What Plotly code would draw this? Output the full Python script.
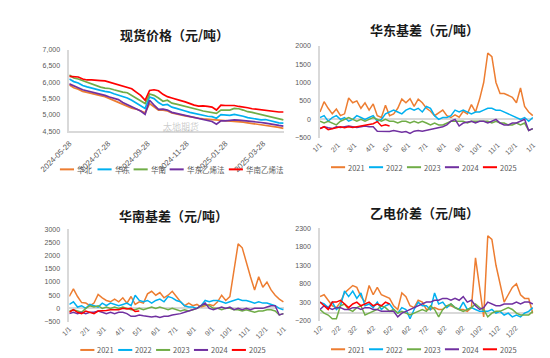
import pandas as pd
import plotly.graph_objects as go

W, H = 550, 358

# ---------------- data: 现货价格 (weekly) ----------------
spot_dates = pd.date_range("2024-05-28", periods=49, freq="7D").strftime("%Y-%m-%d").tolist()
spot_huabei = [5920,5830,5790,5720,5690,5650,5610,5590,5560,5500,
               5450,5400,5330,5260,5210,5180,5130,5070,5350,5250,
               5150,5150,5120,5060,5040,5000,4970,4940,4920,4900,
               4880,4870,4860,4840,4850,4830,4820,4800,4800,4780,
               4760,4740,4720,4720,4700,4680,4660,4620,4590]
spot_huadong = [6100,6020,5980,5900,5860,5820,5770,5750,5720,5700,
                5650,5610,5570,5520,5450,5360,5280,5200,5550,5500,
                5380,5300,5320,5240,5200,5150,5120,5080,5050,5000,
                4980,4960,4950,4900,5010,5000,4990,5020,5000,4960,
                4920,4900,4880,4850,4860,4820,4790,4760,4750]
spot_huanan = [6220,6130,6100,6050,6000,5950,5880,5850,5820,5810,
               5770,5730,5700,5680,5600,5520,5450,5350,5640,5600,
               5520,5420,5450,5360,5330,5300,5260,5230,5200,5160,
               5120,5100,5080,5050,5150,5140,5150,5200,5190,5150,
               5100,5080,5050,5000,4980,4950,4930,4880,4850]
spot_hd_ethylene = [5950,5880,5830,5770,5740,5700,5660,5640,5600,5550,
                    5510,5470,5380,5310,5240,5170,5120,5020,5450,5300,
                    5170,5180,5150,5080,5050,5020,4990,4950,4920,4880,
                    4850,4820,4800,4720,4820,4820,4840,4850,4840,4830,
                    4820,4800,4780,4770,4750,4720,4700,4680,4660]
spot_hn_ethylene = [6180,6170,6160,6100,6070,6070,6050,6050,6040,6000,
                    5970,5920,5880,5860,5800,5700,5600,5450,5750,5770,
                    5740,5630,5560,5520,5470,5440,5400,5340,5300,5270,
                    5280,5260,5240,5150,5300,5290,5300,5290,5260,5250,
                    5220,5190,5170,5150,5130,5110,5100,5090,5090]
spot_names = ["华北", "华东", "华南", "华东乙烯法", "华南乙烯法"]
spot_ticks = ["2024-05-28", "2024-07-28", "2024-09-28", "2024-11-28", "2025-01-28", "2025-03-28"]

# ---------------- data: seasonal (day of year, weekly) ----------------
week_days = list(range(0, 365, 7))
years = ["2021", "2022", "2023", "2024", "2025"]

hd_2021 = [200,480,300,150,280,100,150,580,450,500,300,450,250,420,100,50,380,100,150,300,
           550,450,560,350,550,450,300,220,100,180,250,100,50,120,60,220,150,400,200,550,
           1000,1800,1700,1000,700,700,650,600,450,850,350,200,100]
hd_2022 = [50,100,-50,50,100,0,50,-50,0,100,50,0,50,100,-50,0,
           150,200,250,200,150,250,300,250,300,200,350,300,100,0,50,
           50,100,250,200,250,200,150,200,200,250,300,300,250,250,200,150,100,50,0,50,-50,50]
hd_2023 = [-50,-100,-50,-100,-150,-50,0,50,0,-50,0,-50,0,
           50,0,-50,0,-50,-50,-100,-50,-50,-100,-50,-100,-50,
           -100,-150,-100,-150,-150,-100,-50,-50,-50,-50,-100,-50,-50,
           -50,-50,-50,-100,-50,-100,-100,-150,-150,-100,-150,-100,-300,-250]
hd_2024 = [-250,-200,-230,-250,-200,-220,-200,-180,-200,-220,
           -200,-180,-200,-200,-320,-320,-340,-330,-300,-320,
           -350,-330,-380,-320,-300,-320,-300,-280,-250,-220,
           -200,-150,-50,0,-180,-100,-80,-50,-100,-50,
           -50,-100,-50,0,-100,-150,-150,-100,-100,-50,
           0,-300,-250]
hd_2025 = [-250,-200,-280,-250,-220,-200,-230,-200,-220,-200,-200,-180,-150,-120,-60,-180,-150,-180]

hn_2021 = [450,740,450,220,200,100,200,530,400,300,250,350,250,400,200,450,150,250,200,550,
           650,500,600,400,500,650,450,250,100,200,100,150,50,100,150,100,250,500,300,450,
           1500,2450,2300,1700,1200,700,1200,800,1000,700,500,350,250]
hn_2022 = [150,250,50,100,0,150,100,50,200,100,200,150,100,150,200,100,
           500,300,250,300,200,300,350,250,450,400,300,250,100,50,50,
           0,100,300,250,300,300,250,200,250,300,350,300,300,250,200,250,200,200,150,100,0,-50]
hn_2023 = [-100,-50,-100,-150,0,100,50,100,0,50,0,50,0,50,0,-50,-50,0,-50,0,
           50,0,50,0,-50,0,-50,-100,-50,-100,-50,0,100,150,100,0,0,-50,0,0,
           -50,-50,-100,-50,-100,-150,-100,-100,-50,-50,-100,-250,-200]
hn_2024 = [-200,-150,-200,-150,-200,-150,-150,-100,-150,-200,-150,-200,-150,-150,-200,-300,-300,-250,-280,-300,
           -330,-300,-350,-300,-300,-250,-230,-200,-150,-100,-50,0,100,200,0,-50,0,50,0,50,
           -50,0,-50,0,-50,0,0,0,50,100,100,-250,-200]
hn_2025 = [-150,-50,-150,-200,-100,-150,-200,-100,-100,-80,-50,-50,-50,0,-20,0,-120,-100]

yd_2021 = [450,500,350,200,150,300,550,650,750,700,450,300,750,500,700,500,450,400,200,100,
           550,450,200,150,350,300,100,100,150,100,100,200,200,150,100,100,50,150,1500,700,
           -100,2100,2000,1300,800,300,500,700,800,500,400,400,0]
yd_2022 = [300,250,150,300,100,200,600,450,600,400,550,200,250,150,300,100,200,250,100,0,
           150,100,-150,100,300,200,200,100,550,250,300,150,250,150,100,300,100,150,100,50,
           50,50,100,0,50,-50,0,-100,-50,-100,0,50,150]
yd_2023 = [100,0,-50,-150,-150,200,250,100,50,150,200,-50,0,50,100,200,150,50,100,0,
           50,0,-50,0,50,100,50,200,100,-100,100,200,250,150,100,50,100,150,250,150,
           100,-100,0,50,50,100,150,100,0,-50,-50,-50,50]
yd_2024 = [100,200,150,100,150,150,100,100,150,150,100,150,150,100,100,50,50,50,50,-100,
           0,50,100,150,200,250,300,300,350,350,400,400,350,400,350,450,300,350,200,100,
           150,300,250,200,200,250,250,250,300,250,300,300,250]
yd_2025 = [300,200,100,300,300,350,250,150,250,300,200,250,300,200,250,200,300,250]

month1_days = [0, 31, 59, 90, 120, 151, 181, 212, 243, 273, 304, 334, 365]
month1_text = ["1/1", "2/1", "3/1", "4/1", "5/1", "6/1", "7/1", "8/1", "9/1", "10/1", "11/1", "12/1", "1/1"]
month2_days = [1, 32, 60, 91, 121, 152, 182, 213, 244, 274, 305, 335]
month2_text = ["1/2", "2/2", "3/2", "4/2", "5/2", "6/2", "7/2", "8/2", "9/2", "10/2", "11/2", "12/2"]

# ---------------- style ----------------
spot_colors = ["#ED7D31", "#00B0F0", "#70AD47", "#7030A0", "#FF0000"]
year_colors = ["#ED7D31", "#00B0F0", "#70AD47", "#7030A0", "#FF0000"]
GRAY = "#D9D9D9"
TICK_FONT = dict(family="Liberation Sans, Arial, sans-serif", size=7, color="#595959")
DATE_FONT = dict(family="Liberation Sans, Arial, sans-serif", size=7.8, color="#595959")
LEG_FONT = dict(family="Noto Sans CJK SC, Liberation Sans, sans-serif", size=7.5, color="#595959")
TITLE_FONT = dict(family="Noto Sans CJK SC", size=13, color="#1a1a1a", weight="bold")


def dx(a, b):
    return [a / W, b / W]


def dy(top, bottom):
    return [1 - bottom / H, 1 - top / H]


fig = go.Figure()

for name, vals, col in zip(spot_names,
                           [spot_huabei, spot_huadong, spot_huanan, spot_hd_ethylene, spot_hn_ethylene],
                           spot_colors):
    fig.add_trace(go.Scatter(x=spot_dates, y=vals, mode="lines", name=name,
                             line=dict(color=col, width=1.7), xaxis="x", yaxis="y", showlegend=False))

panels = [
    ("x2", "y2", [hd_2021, hd_2022, hd_2023, hd_2024, hd_2025]),
    ("x3", "y3", [hn_2021, hn_2022, hn_2023, hn_2024, hn_2025]),
    ("x4", "y4", [yd_2021, yd_2022, yd_2023, yd_2024, yd_2025]),
]
for xa, ya, series in panels:
    for yr, vals, col in zip(years, series, year_colors):
        fig.add_trace(go.Scatter(x=week_days[:len(vals)], y=vals, mode="lines", name=yr,
                                 line=dict(color=col, width=1.5), xaxis=xa, yaxis=ya, showlegend=False))

common_x = dict(showgrid=False, zeroline=False, tickangle=-45, ticks="")
common_y = dict(showgrid=False, showline=True, linecolor=GRAY, linewidth=1.5, tickfont=TICK_FONT,
                ticks="", ticklabelstandoff=6)

fig.update_layout(
    width=W, height=H, margin=dict(l=0, r=0, t=0, b=0),
    paper_bgcolor="white", plot_bgcolor="white", showlegend=False,
    xaxis=dict(domain=dx(33.3, 261.7), anchor="y", type="date",
               range=["2024-05-28", "2025-04-30"], tickvals=spot_ticks, ticktext=spot_ticks,
               showline=True, linecolor=GRAY, linewidth=1.5, ticklabelstandoff=3,
               tickfont=DATE_FONT, **common_x),
    yaxis=dict(domain=dy(38.3, 121.7), anchor="x", range=[4500, 7000], dtick=500,
               tickformat=",", zeroline=False, **common_y),
    xaxis2=dict(domain=dx(300, 527), anchor="y2", range=[0, 365], tickvals=month1_days,
                ticktext=month1_text, showline=False, ticklabelstandoff=1, tickfont=TICK_FONT, **common_x),
    yaxis2=dict(domain=dy(34.3, 128.3), anchor="x2", range=[-500, 2000], dtick=500,
                zeroline=True, zerolinecolor=GRAY, zerolinewidth=1.5, **common_y),
    xaxis3=dict(domain=dx(33.3, 261.7), anchor="y3", range=[0, 365], tickvals=month1_days,
                ticktext=month1_text, showline=False, ticklabelstandoff=1, tickfont=TICK_FONT, **common_x),
    yaxis3=dict(domain=dy(221.7, 315.7), anchor="x3", range=[-500, 3000], dtick=500,
                zeroline=True, zerolinecolor=GRAY, zerolinewidth=1.5, **common_y),
    xaxis4=dict(domain=dx(300, 527), anchor="y4", range=[0, 365], tickvals=month2_days,
                ticktext=month2_text, showline=False, ticklabelstandoff=1, tickfont=TICK_FONT, **common_x),
    yaxis4=dict(domain=dy(220.7, 314.7), anchor="x4", range=[-200, 2300], tick0=-200, dtick=500,
                zeroline=True, zerolinecolor=GRAY, zerolinewidth=1.5, **common_y),
)

# titles
for text, cx, cy in [("现货价格（元/吨）", 145.5, 23), ("华东基差（元/吨）", 410.8, 18.3),
                     ("华南基差（元/吨）", 144.5, 207.3), ("乙电价差（元/吨）", 410.8, 204)]:
    fig.add_annotation(xref="paper", yref="paper", x=cx / W, y=1 - cy / H, text=text,
                       showarrow=False, xanchor="center", yanchor="middle", font=TITLE_FONT)

# watermark
fig.add_annotation(xref="paper", yref="paper", x=131 / W, y=1 - 108 / H, text="大地期货",
                   showarrow=False, font=dict(family="Noto Sans CJK SC", size=9, color="rgba(140,140,140,0.45)"))
fig.add_annotation(xref="paper", yref="paper", x=131 / W, y=1 - 116 / H, text="DADI FUTURES",
                   showarrow=False, font=dict(family="Liberation Sans", size=4, color="rgba(140,140,140,0.45)"))


# legends (drawn manually to match the compact Excel legend)
def add_legend(names, colors, starts, y, line_len=15):
    for name, col, xs in zip(names, colors, starts):
        fig.add_shape(type="line", xref="paper", yref="paper", x0=xs / W, x1=(xs + line_len) / W,
                      y0=1 - y / H, y1=1 - y / H, line=dict(color=col, width=2))
        fig.add_annotation(xref="paper", yref="paper", x=(xs + line_len + 1) / W, y=1 - y / H,
                           text=name, showarrow=False, xanchor="left", yanchor="middle", font=LEG_FONT)


add_legend(spot_names, spot_colors, [23.3, 63.3, 101.7, 140, 203], 160.5)
add_legend(years, year_colors, [311.7 + 40.4 * j for j in range(5)], 158.3)
add_legend(years, year_colors, [45 + 40.3 * j for j in range(5)], 344.7)
add_legend(years, year_colors, [311.7 + 40.4 * j for j in range(5)], 344)

fig.write_html("out.html")
